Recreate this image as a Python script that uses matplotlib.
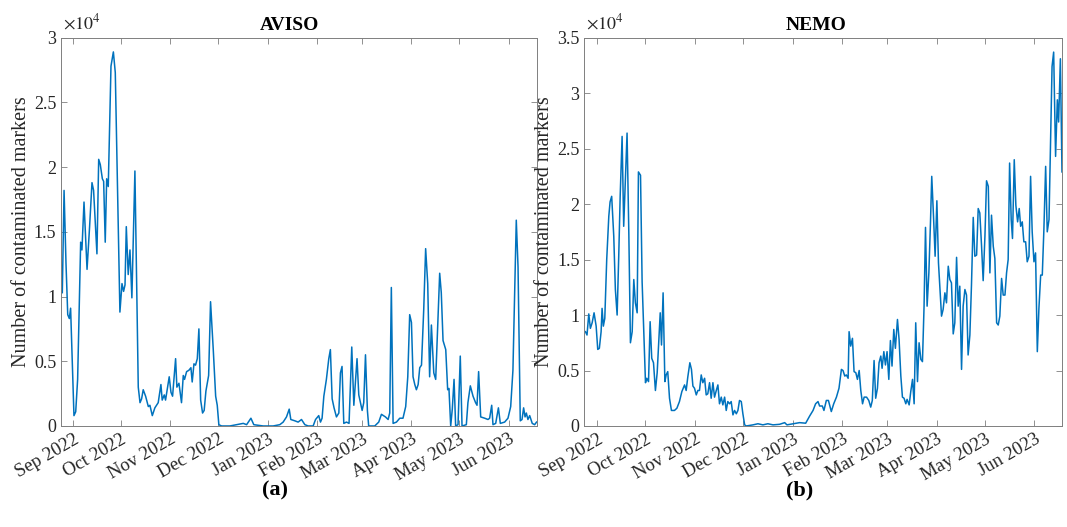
import pandas as pd
import matplotlib
matplotlib.use('Agg')
import matplotlib.pyplot as plt

start = pd.Timestamp('2022-08-24')

# day offsets from start, values in units of 1e4 markers
aviso_days = [1.3, 2.4, 3.6, 4.7, 5.7, 6.5, 8.6, 9.7, 10.9, 12.8, 13.6, 14.9, 16.8, 18.4, 19.9,
              20.9, 23.0, 24.1, 25.1, 26.4, 27.2, 28.2, 29.1, 30.1, 31.8, 33.3, 34.5, 37.4, 38.7,
              39.7, 40.6, 41.4, 42.6, 43.7, 44.9, 46.8, 48.9, 50.0, 51.0, 52.0, 53.5, 55.2, 56.2,
              57.7, 59.3, 61.4, 63.1, 63.9, 65.2, 66.0, 68.3, 69.4, 70.4, 72.3, 73.1, 74.4, 76.0,
              77.1, 77.9, 79.2, 80.6, 81.9, 82.7, 83.8, 84.8, 85.9, 86.9, 88.0, 89.2, 90.2, 91.3,
              93.0, 94.2, 95.9, 97.4, 98.4, 99.4, 101.1, 106.3, 110.5, 114.7, 116.8, 119.5, 121.3,
              127.2, 133.4, 137.6, 139.7, 141.8, 143.5, 144.5, 147.0, 149.1, 151.2, 153.3, 155.4,
              158.5, 160.0, 162.0, 163.1, 164.1, 165.2, 166.8, 168.3, 169.3, 170.4, 171.6, 173.1,
              174.6, 175.6, 176.6, 177.7, 179.4, 181.0, 182.7, 184.0, 186.0, 187.1, 189.2, 190.2,
              191.3, 192.5, 193.3, 197.1, 199.6, 201.3, 203.8, 205.5, 206.5, 207.5, 208.6, 210.7,
              212.8, 214.8, 216.5, 217.8, 219.0, 220.1, 221.1, 222.2, 223.2, 224.3, 225.3, 226.4,
              227.8, 229.0, 230.3, 231.5, 232.6, 234.1, 235.3, 237.8, 238.8, 239.9, 241.6, 242.8,
              243.6, 244.7, 245.7, 246.8, 247.8, 249.3, 250.7, 251.8, 254.5, 255.5, 257.0, 258.7,
              260.3, 261.2, 262.2, 263.5, 266.0, 268.1, 269.1, 270.4, 271.2, 272.9, 274.6, 275.8,
              278.5, 280.6, 282.3, 283.7, 285.8, 286.9, 288.3, 289.4, 290.4, 291.3, 292.1, 293.1,
              294.2, 295.8, 297.3, 298.5]
aviso_vals = [1.03, 1.82, 1.26, 0.86, 0.83, 0.91, 0.08, 0.11, 0.36, 1.42, 1.36, 1.73, 1.21, 1.54, 1.88,
              1.82, 1.33, 2.06, 2.02, 1.91, 1.89, 1.42, 1.91, 1.85, 2.78, 2.89, 2.73, 0.88, 1.10,
              1.04, 1.09, 1.54, 1.17, 1.36, 0.99, 1.97, 0.30, 0.18, 0.21, 0.28, 0.23, 0.15, 0.16,
              0.08, 0.14, 0.18, 0.32, 0.20, 0.24, 0.20, 0.38, 0.26, 0.23, 0.52, 0.30, 0.33, 0.18,
              0.39, 0.36, 0.42, 0.43, 0.45, 0.34, 0.48, 0.47, 0.52, 0.75, 0.20, 0.10, 0.12, 0.27,
              0.39, 0.96, 0.59, 0.23, 0.16, 0.01, 0.0, 0.0, 0.01, 0.02, 0.01, 0.06, 0.01,
              0.0, 0.0, 0.01, 0.03, 0.07, 0.13, 0.05, 0.04, 0.03, 0.05, 0.01, 0.0,
              0.0, 0.05, 0.08, 0.03, 0.06, 0.23, 0.36, 0.52, 0.59, 0.21, 0.14, 0.07,
              0.10, 0.41, 0.46, 0.02, 0.03, 0.02, 0.61, 0.16, 0.52, 0.24, 0.12, 0.18,
              0.55, 0.12, 0.0, 0.0, 0.03, 0.09, 0.07, 0.05, 0.10, 1.07, 0.02, 0.03,
              0.06, 0.06, 0.15, 0.38, 0.86, 0.80, 0.38, 0.32, 0.28, 0.32, 0.45, 0.47,
              0.90, 1.37, 1.10, 0.38, 0.78, 0.41, 0.36, 1.18, 1.03, 0.66, 0.59, 0.28,
              0.29, 0.0, 0.13, 0.36, 0.0, 0.01, 0.54, 0.0, 0.01, 0.18, 0.31, 0.23,
              0.18, 0.16, 0.42, 0.07, 0.06, 0.05, 0.06, 0.16, 0.01, 0.02, 0.14, 0.02,
              0.03, 0.06, 0.15, 0.43, 1.59, 1.23, 0.04, 0.05, 0.14, 0.07, 0.10, 0.05,
              0.08, 0.02, 0.01, 0.03]

nemo_days = [0.7, 1.7, 2.8, 3.8, 4.9, 6.1, 7.4, 8.4, 9.4, 10.5, 11.1, 11.9, 12.8, 14.0, 15.3, 16.1,
             17.1, 18.4, 19.4, 20.5, 21.5, 22.4, 23.6, 24.6, 25.7, 26.7, 27.8, 28.8, 29.9, 30.9,
             31.9, 33.0, 33.8, 35.1, 36.1, 38.2, 39.0, 40.1, 41.1, 42.1, 43.2, 44.4, 45.5, 46.5,
             47.4, 48.2, 49.2, 50.3, 51.1, 52.1, 53.2, 54.4, 56.3, 57.8, 59.4, 60.9, 62.6, 63.6,
             64.6, 65.9, 66.9, 67.8, 68.8, 69.9, 70.9, 71.9, 73.0, 74.0, 75.1, 76.1, 77.1, 78.2,
             79.2, 80.3, 81.3, 82.4, 83.4, 84.4, 85.5, 86.5, 87.6, 88.6, 89.6, 90.7, 91.7, 92.8,
             93.8, 94.9, 95.9, 96.9, 98.0, 99.0, 100.1, 101.1, 105.3, 108.4, 111.5, 114.6, 117.8,
             121.9, 125.1, 126.5, 130.3, 134.4, 138.2, 140.7, 142.8, 144.4, 145.9, 146.9, 148.6,
             149.6, 151.1, 152.4, 154.2, 155.7, 157.4, 159.0, 160.5, 161.5, 162.6, 163.6, 164.7,
             165.3, 166.3, 167.4, 168.4, 169.5, 170.5, 171.6, 172.6, 173.7, 174.7, 176.2, 177.6,
             178.8, 179.8, 180.9, 181.9, 183.0, 184.0, 185.1, 185.9, 187.0, 188.0, 189.0, 190.1,
             191.1, 192.1, 193.2, 194.2, 195.5, 196.5, 197.6, 198.6, 199.6, 200.7, 201.5, 202.8,
             203.8, 204.9, 205.9, 206.9, 208.0, 209.0, 210.1, 211.1, 212.1, 213.0, 214.0, 215.1,
             216.1, 216.9, 218.0, 219.0, 220.1, 221.1, 223.0, 224.0, 225.1, 226.1, 227.2, 228.2,
             229.2, 230.3, 231.3, 232.4, 233.4, 234.4, 235.5, 236.5, 237.6, 238.6, 239.6, 240.7,
             241.7, 242.8, 243.8, 244.9, 245.9, 246.9, 248.0, 249.0, 250.1, 251.1, 252.2, 253.2,
             254.2, 255.3, 256.3, 257.4, 258.4, 259.4, 260.5, 261.5, 262.6, 263.6, 264.6, 265.5,
             266.5, 267.3, 268.4, 269.4, 270.5, 271.5, 272.4, 273.4, 274.4, 275.5, 276.5, 277.6,
             278.6, 279.6, 280.7, 281.7, 282.8, 283.8, 284.9, 285.9, 286.9, 288.0, 289.0, 290.1,
             291.1, 292.0, 293.0, 294.2, 295.3, 296.1, 297.2, 298.2]
nemo_vals = [0.85, 0.82, 1.01, 0.88, 0.93, 1.02, 0.90, 0.69, 0.70, 0.85, 1.06, 0.90, 0.97, 1.50, 1.89, 2.02,
             2.07, 1.71, 1.23, 1.00, 1.53, 2.07, 2.61, 1.80, 2.25, 2.64, 1.74, 0.75, 0.85, 1.32,
             1.11, 1.02, 2.29, 2.26, 1.30, 0.39, 0.43, 0.40, 0.94, 0.61, 0.57, 0.32, 0.48, 0.76,
             1.02, 0.73, 1.20, 0.40, 0.46, 0.49, 0.25, 0.14, 0.14, 0.16, 0.22, 0.31, 0.37, 0.32,
             0.44, 0.57, 0.51, 0.36, 0.34, 0.28, 0.32, 0.32, 0.46, 0.39, 0.43, 0.28, 0.29, 0.39,
             0.25, 0.39, 0.26, 0.32, 0.37, 0.20, 0.26, 0.19, 0.26, 0.14, 0.22, 0.20, 0.22, 0.10,
             0.14, 0.11, 0.14, 0.23, 0.22, 0.11, 0.01, 0.0, 0.01, 0.02, 0.01, 0.02, 0.01,
             0.015, 0.03, 0.01, 0.02, 0.03, 0.025, 0.09, 0.14, 0.20, 0.22, 0.18, 0.18,
             0.14, 0.23, 0.23, 0.13, 0.20, 0.26, 0.34, 0.51, 0.50, 0.45, 0.46, 0.43,
             0.85, 0.72, 0.79, 0.49, 0.48, 0.42, 0.50, 0.32, 0.20, 0.26, 0.26, 0.23,
             0.17, 0.23, 0.59, 0.25, 0.34, 0.57, 0.63, 0.52, 0.67, 0.55, 0.67, 0.42,
             0.77, 0.54, 0.87, 0.70, 0.96, 0.78, 0.45, 0.26, 0.25, 0.20, 0.24, 0.19,
             0.31, 0.42, 0.20, 0.93, 0.40, 0.75, 0.60, 0.58, 1.08, 1.79, 1.08, 1.38,
             1.83, 2.25, 1.89, 1.53, 2.03, 1.47, 0.99, 1.05, 1.20, 1.11, 1.44, 1.32,
             1.29, 0.83, 0.93, 1.52, 1.08, 1.26, 0.51, 1.08, 1.23, 1.18, 0.64, 0.82,
             1.27, 1.88, 1.53, 1.54, 1.96, 1.92, 1.62, 1.31, 1.71, 2.21, 2.16, 1.38,
             1.90, 1.62, 1.51, 0.93, 0.91, 0.99, 1.33, 1.18, 1.18, 1.38, 1.50, 2.37,
             1.86, 1.69, 2.40, 1.99, 1.84, 1.96, 1.80, 1.84, 1.66, 1.66, 1.48, 1.53,
             2.25, 1.75, 1.48, 1.56, 0.67, 1.06, 1.36, 1.36, 1.77, 2.34, 1.75, 1.86,
             2.58, 3.24, 3.37, 2.43, 2.94, 2.74, 3.31, 2.29]

titles = ['AVISO', 'NEMO']
panel_labels = ['(a)', '(b)']
ytops = [3.0, 3.5]
ylabel = 'Number of contaminated markers'

plt.rcParams['font.family'] = ['Liberation Serif', 'DejaVu Serif']
plt.rcParams['mathtext.fontset'] = 'stix'

fig = plt.figure(figsize=(10.67, 5.27), dpi=100)
ax1 = fig.add_axes([0.0572, 0.1917, 0.4461, 0.7368])
ax2 = fig.add_axes([0.5476, 0.1917, 0.4477, 0.7368])

months = pd.date_range('2022-09-01', '2023-06-01', freq='MS')
gray = '#262626'

series = [(aviso_days, aviso_vals), (nemo_days, nemo_vals)]
xlims = [(0.5, 298.8), (0.0, 298.2)]
title_x = [0.481, 0.485]
label_x = [0.2577, 0.7498]
ylab_x = [-0.063, -0.063]

for i, ax in enumerate([ax1, ax2]):
    days, vals = series[i]
    dates = start + pd.to_timedelta(days, unit='D')
    ax.plot(dates, vals, color='#0072BD', lw=1.1)
    ax.set_xlim(start + pd.Timedelta(days=xlims[i][0]), start + pd.Timedelta(days=xlims[i][1]))
    ax.set_ylim(0, ytops[i])
    ax.set_xticks(months)
    ax.set_xticklabels([m.strftime('%b %Y') for m in months], rotation=30, ha='right',
                       rotation_mode='anchor', fontsize=13.5, color=gray)
    yt = [k * 0.5 for k in range(int(ytops[i] / 0.5) + 1)]
    ax.set_yticks(yt)
    ax.set_yticklabels(['%g' % v for v in yt], fontsize=13, color=gray)
    ax.tick_params(direction='in', top=True, right=True, length=4, width=0.6,
                   color='#7f7f7f', pad=3.5)
    for s in ax.spines.values():
        s.set_color('#7f7f7f')
        s.set_linewidth(0.7)
    ax.set_ylabel(ylabel, fontsize=14.5, color=gray)
    ax.yaxis.set_label_coords(ylab_x[i], 0.5)
    ax.text(title_x[i], 1.01, titles[i], transform=ax.transAxes, ha='center', va='bottom',
            fontsize=14, fontweight='bold')
    ax.text(0.004, 1.012, r'$\times10^4$', transform=ax.transAxes, ha='left', va='bottom',
            fontsize=13, color=gray)
    fig.text(label_x[i], 0.07, panel_labels[i], ha='center', va='center', fontsize=16,
             fontweight='bold')

fig.savefig('out.png', dpi=100)
